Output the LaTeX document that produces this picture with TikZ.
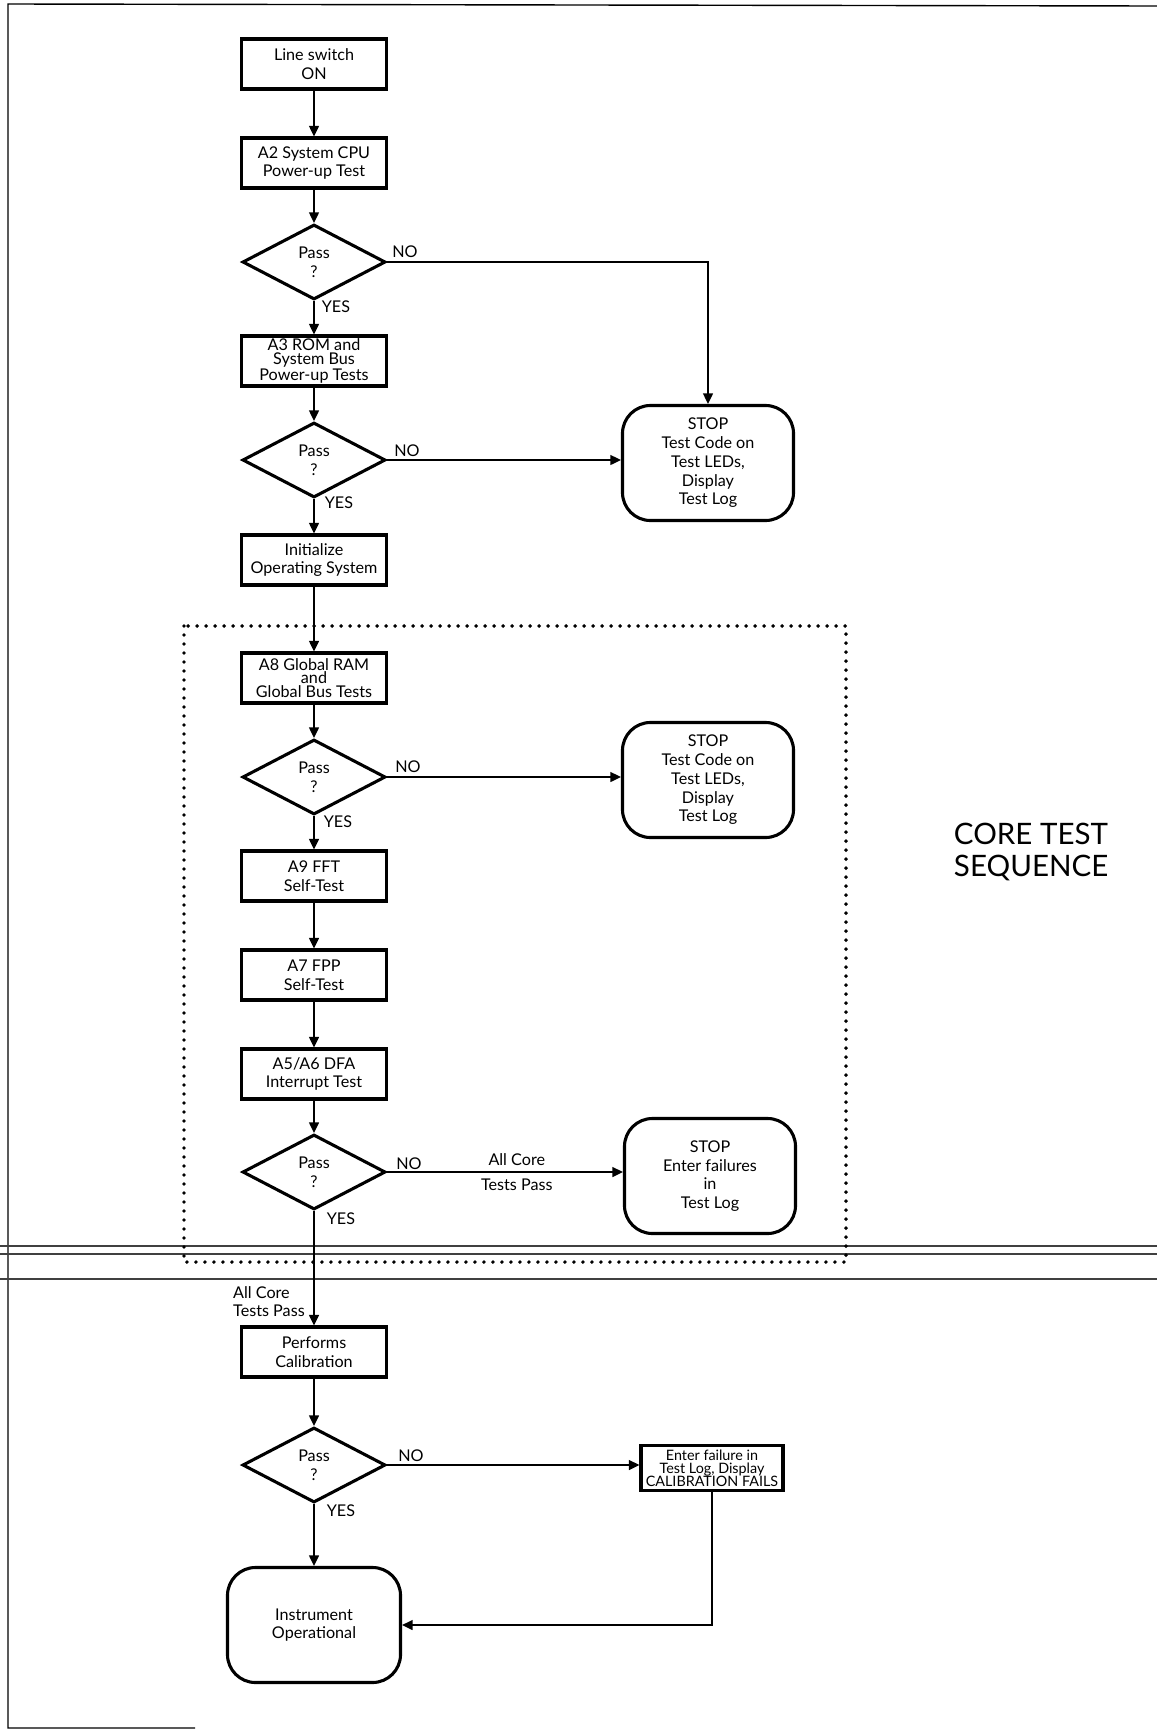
\documentclass[tikz,border=0pt]{standalone}
\usepackage{fontspec}
\setmainfont{Lato}
\usepackage{tikz}
\usetikzlibrary{arrows.meta, positioning, shapes.geometric}

\begin{document}
\begin{tikzpicture}[
    x=0.025cm, y=-0.025cm,
    box/.style={draw, line width=2.2pt, minimum width=3.625cm,
                minimum height=1.25cm, align=center, inner sep=1pt,
                font=\fontsize{11.5}{13.3}\selectfont},
    tight/.style={font=\fontsize{11.5}{9.8}\selectfont},
    dec/.style={draw, diamond, aspect=1.9, line width=2.2pt,
                minimum width=3.575cm, minimum height=1.875cm,
                inner sep=0pt, align=center,
                font=\fontsize{11.5}{13.3}\selectfont},
    stopbox/.style={draw, line width=2.2pt, rounded corners=0.7cm,
                    minimum width=4.275cm, minimum height=2.875cm,
                    align=center, font=\fontsize{11.5}{13.3}\selectfont},
    arr/.style={-{Triangle[length=7.5pt, width=7pt]}, line width=1.2pt},
    lab/.style={font=\fontsize{11.5}{13.3}\selectfont, inner sep=0pt},
    frame/.style={line width=1pt},
    scan/.style={line width=1.1pt, black!75},
    core/.style={draw, line width=2.8pt, line cap=round,
                 dash pattern=on 0pt off 6.4pt}
  ]
  \useasboundingbox (0,0) rectangle (1157,1730);

  % page frame and scan lines
  \draw[frame] (1157,6) -- (8,4) -- (8,1728) -- (195,1728);
  \draw[scan] (0,1246) -- (1157,1246);
  \draw[scan] (0,1254) -- (1157,1254);
  \draw[scan] (0,1279) -- (1157,1279);

  % power-up tests
  \node[box] (sw) at (314, 64) {Line switch\\ON};
  \node[box] (a2) at (314, 163) {A2 System CPU\\Power-up Test};
  \node[dec] (d1) at (314, 262) {Pass\\?};
  \node[box, tight] (a3) at (314, 361) {A3 ROM and\\System Bus\\Power-up Tests};
  \node[dec] (d2) at (314, 460) {Pass\\?};
  \node[stopbox] (stop1) at (708, 463)
    {STOP\\Test Code on\\Test LEDs,\\Display\\Test Log};
  \node[box] (init) at (314, 560) {Initialize\\Operating System};
  \draw[arr] (sw) -- (a2);
  \draw[arr] (a2) -- (d1);
  \draw[arr] (d1) -- (a3);
  \draw[arr] (d1.east) -| (stop1.north);
  \draw[arr] (a3) -- (d2);
  \draw[arr] (d2.east) -- (d2.east -| stop1.west);
  \draw[arr] (d2) -- (init);
  \node[lab] (no1) at (405, 252) {NO};
  \node[lab] (yes1) at (336, 307) {YES};
  \node[lab] (no2) at (407, 451) {NO};
  \node[lab] (yes2) at (339, 503) {YES};

  % core test sequence
  \draw[core] (184, 626) rectangle (846, 1262);
  \node[box, tight] (a8) at (314, 678) {A8 Global RAM\\and\\Global Bus Tests};
  \node[dec] (d3) at (314, 777) {Pass\\?};
  \node[stopbox] (stop2) at (708, 780)
    {STOP\\Test Code on\\Test LEDs,\\Display\\Test Log};
  \node[box] (a9) at (314, 876) {A9 FFT\\Self-Test};
  \node[box] (a7) at (314, 975) {A7 FPP\\Self-Test};
  \node[box] (a5) at (314, 1074) {A5/A6 DFA\\Interrupt Test};
  \node[dec] (d4) at (314, 1172) {Pass\\?};
  \node[stopbox] (stop3) at (710, 1176)
    {STOP\\Enter failures\\in\\Test Log};
  \draw[arr] (init) -- (a8);
  \draw[arr] (a8) -- (d3);
  \draw[arr] (d3.east) -- (d3.east -| stop2.west);
  \draw[arr] (d3) -- (a9);
  \draw[arr] (a9) -- (a7);
  \draw[arr] (a7) -- (a5);
  \draw[arr] (a5) -- (d4);
  \draw[arr] (d4.east) -- (d4.east -| stop3.west)
    node[lab, pos=0.55, align=center, font=\fontsize{11.5}{17.4}\selectfont]
    {All Core\\Tests Pass};
  \node[lab] (no3) at (408, 767) {NO};
  \node[lab] (yes3) at (338, 822) {YES};
  \node[lab] (no4) at (409, 1164) {NO};
  \node[lab] (yes4) at (341, 1219) {YES};
  \node[font=\fontsize{21}{22.7}\selectfont, align=left, anchor=west]
    (title) at (949, 852) {CORE TEST\\SEQUENCE};

  % calibration
  \node[box, minimum width=3.55cm, minimum height=1.125cm, inner sep=0pt,
        font=\fontsize{10.2}{9.4}\selectfont]
    (fail) at (712, 1468) {Enter failure in\\Test Log, Display\\CALIBRATION FAILS};
  \node[box] (cal) at (314, 1352) {Performs\\Calibration};
  \node[dec] (d5) at (314, 1465) {Pass\\?};
  \node[stopbox, minimum width=4.325cm] (oper) at (314, 1625)
    {Instrument\\Operational};
  \draw[arr] (d4) -- (cal)
    node[lab, pos=0.79, anchor=east, align=left, xshift=-6pt,
         font=\fontsize{11.5}{12.8}\selectfont] {All Core\\Tests Pass};
  \draw[arr] (cal) -- (d5);
  \draw[arr] (d5.east) -- (d5.east -| fail.west);
  \draw[arr] (d5) -- (oper);
  \draw[arr] (fail.south) |- (oper.east);
  \node[lab] (no5) at (411, 1456) {NO};
  \node[lab] (yes5) at (341, 1511) {YES};
\end{tikzpicture}
\end{document}
